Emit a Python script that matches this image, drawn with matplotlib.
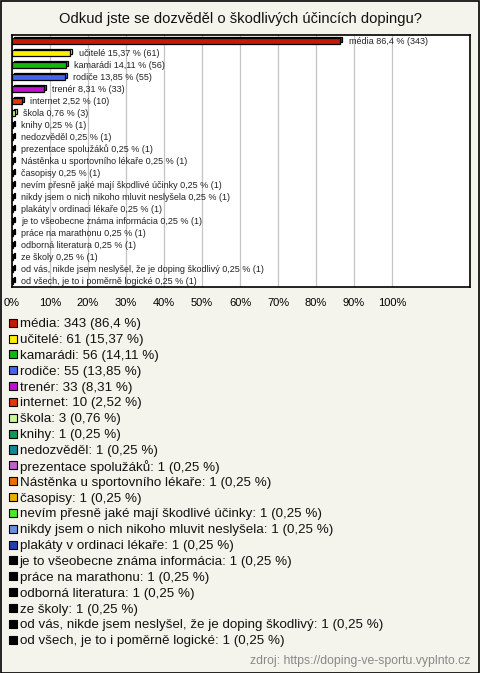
import matplotlib
matplotlib.use("Agg")
import matplotlib.pyplot as plt
import matplotlib.transforms as mtransforms
from matplotlib.patches import Rectangle

plt.rcParams['font.family'] = ['Liberation Sans', 'DejaVu Sans']

title = "Odkud jste se dozvěděl o škodlivých účincích dopingu?"
categories = ["média", "učitelé", "kamarádi", "rodiče", "trenér", "internet", "škola",
              "knihy", "nedozvěděl", "prezentace spolužáků", "Nástěnka u sportovního lékaře",
              "časopisy", "nevím přesně jaké mají škodlivé účinky",
              "nikdy jsem o nich nikoho mluvit neslyšela", "plakáty v ordinaci lékaře",
              "je to všeobecne známa informácia", "práce na marathonu", "odborná literatura",
              "ze školy", "od vás, nikde jsem neslyšel, že je doping škodlivý",
              "od všech, je to i poměrně logické"]
counts = [343, 61, 56, 55, 33, 10, 3, 1, 1, 1, 1, 1, 1, 1, 1, 1, 1, 1, 1, 1, 1]
percents = [86.4, 15.37, 14.11, 13.85, 8.31, 2.52, 0.76, 0.25, 0.25, 0.25, 0.25, 0.25,
            0.25, 0.25, 0.25, 0.25, 0.25, 0.25, 0.25, 0.25, 0.25]
pct_labels = ["86,4", "15,37", "14,11", "13,85", "8,31", "2,52", "0,76"] + ["0,25"] * 14
colors = ["#c41a08", "#ffee00", "#10b810", "#4466e8", "#c010d0", "#e03808", "#c8f890",
          "#109858", "#108898", "#c060c8", "#e87000", "#e8b000", "#48e830", "#6890e0",
          "#2040b0"] + ["#000000"] * 6
xticks = [0, 10, 20, 30, 40, 50, 60, 70, 80, 90, 100]
source = "zdroj: https://doping-ve-sportu.vyplnto.cz"

W, H = 480, 673
fig = plt.figure(figsize=(W / 100, H / 100), dpi=100)
bg = "#f5f4ec"
fig.patch.set_facecolor(bg)
fig.patches.append(Rectangle((0.5 / W, 0.5 / H), 1 - 1.5 / W, 1 - 1.5 / H,
                             transform=fig.transFigure, fill=False, ec="black", lw=1.2))

fig.text(0.5, 1 - 19 / H, title, ha="center", va="center", fontsize=10.6, color="#111111")

# bar chart axes
left, right, top, bottom = 12, 470, 35, 287
ax = fig.add_axes([left / W, 1 - bottom / H, (right - left) / W, (bottom - top) / H])
ax.set_facecolor("white")
n = len(categories)
ax.set_xlim(0, (right - left) / 3.8)
ax.set_ylim(n - 0.5, -0.5)
ys = list(range(n))
shadow = ax.transData + mtransforms.ScaledTranslation(2 / 100, 1.5 / 100, fig.dpi_scale_trans)
ax.barh(ys, percents, height=0.45, color=colors, edgecolor="black", linewidth=0.9,
        transform=shadow, zorder=3)
ax.barh(ys, percents, height=0.45, color=colors, edgecolor="black", linewidth=0.9, zorder=4)
for i in range(n):
    ax.annotate(f"{categories[i]} {pct_labels[i]} % ({counts[i]})", (percents[i], ys[i]),
                xytext=(6, 0), textcoords="offset points", ha="left", va="center",
                fontsize=6.5, color="#222222", zorder=5)
ax.set_xticks(xticks)
ax.set_xticklabels([f"{t}%" for t in xticks], fontsize=8)
ax.set_yticks([])
ax.tick_params(axis="x", length=0, pad=8)
ax.grid(axis="x", color="#c4c4c4", linewidth=0.9, zorder=0)
ax.set_axisbelow(True)
for s in ax.spines.values():
    s.set_color("black")
    s.set_linewidth(1.2)

# legend axes
r0, r20 = 322.7, 639.7
rh = (r20 - r0) / (n - 1)
ltop, lbot = r0 - rh / 2, r20 + rh / 2
lax = fig.add_axes([0, 1 - lbot / H, 1, (lbot - ltop) / H])
lax.set_xlim(0, W)
lax.set_ylim(n - 0.5, -0.5)
lax.axis("off")
lax.scatter([13] * n, ys, marker="s", s=34, c=colors, edgecolors="black", linewidths=0.8)
for i in range(n):
    lax.text(19.5, ys[i], f"{categories[i]}: {counts[i]} ({pct_labels[i]} %)",
             ha="left", va="center_baseline", fontsize=9.6, color="#111111")

fig.text(470 / W, 1 - 661 / H, source, ha="right", va="center", fontsize=8.8, color="#888888")

fig.savefig("out.png", dpi=100, facecolor=bg)
